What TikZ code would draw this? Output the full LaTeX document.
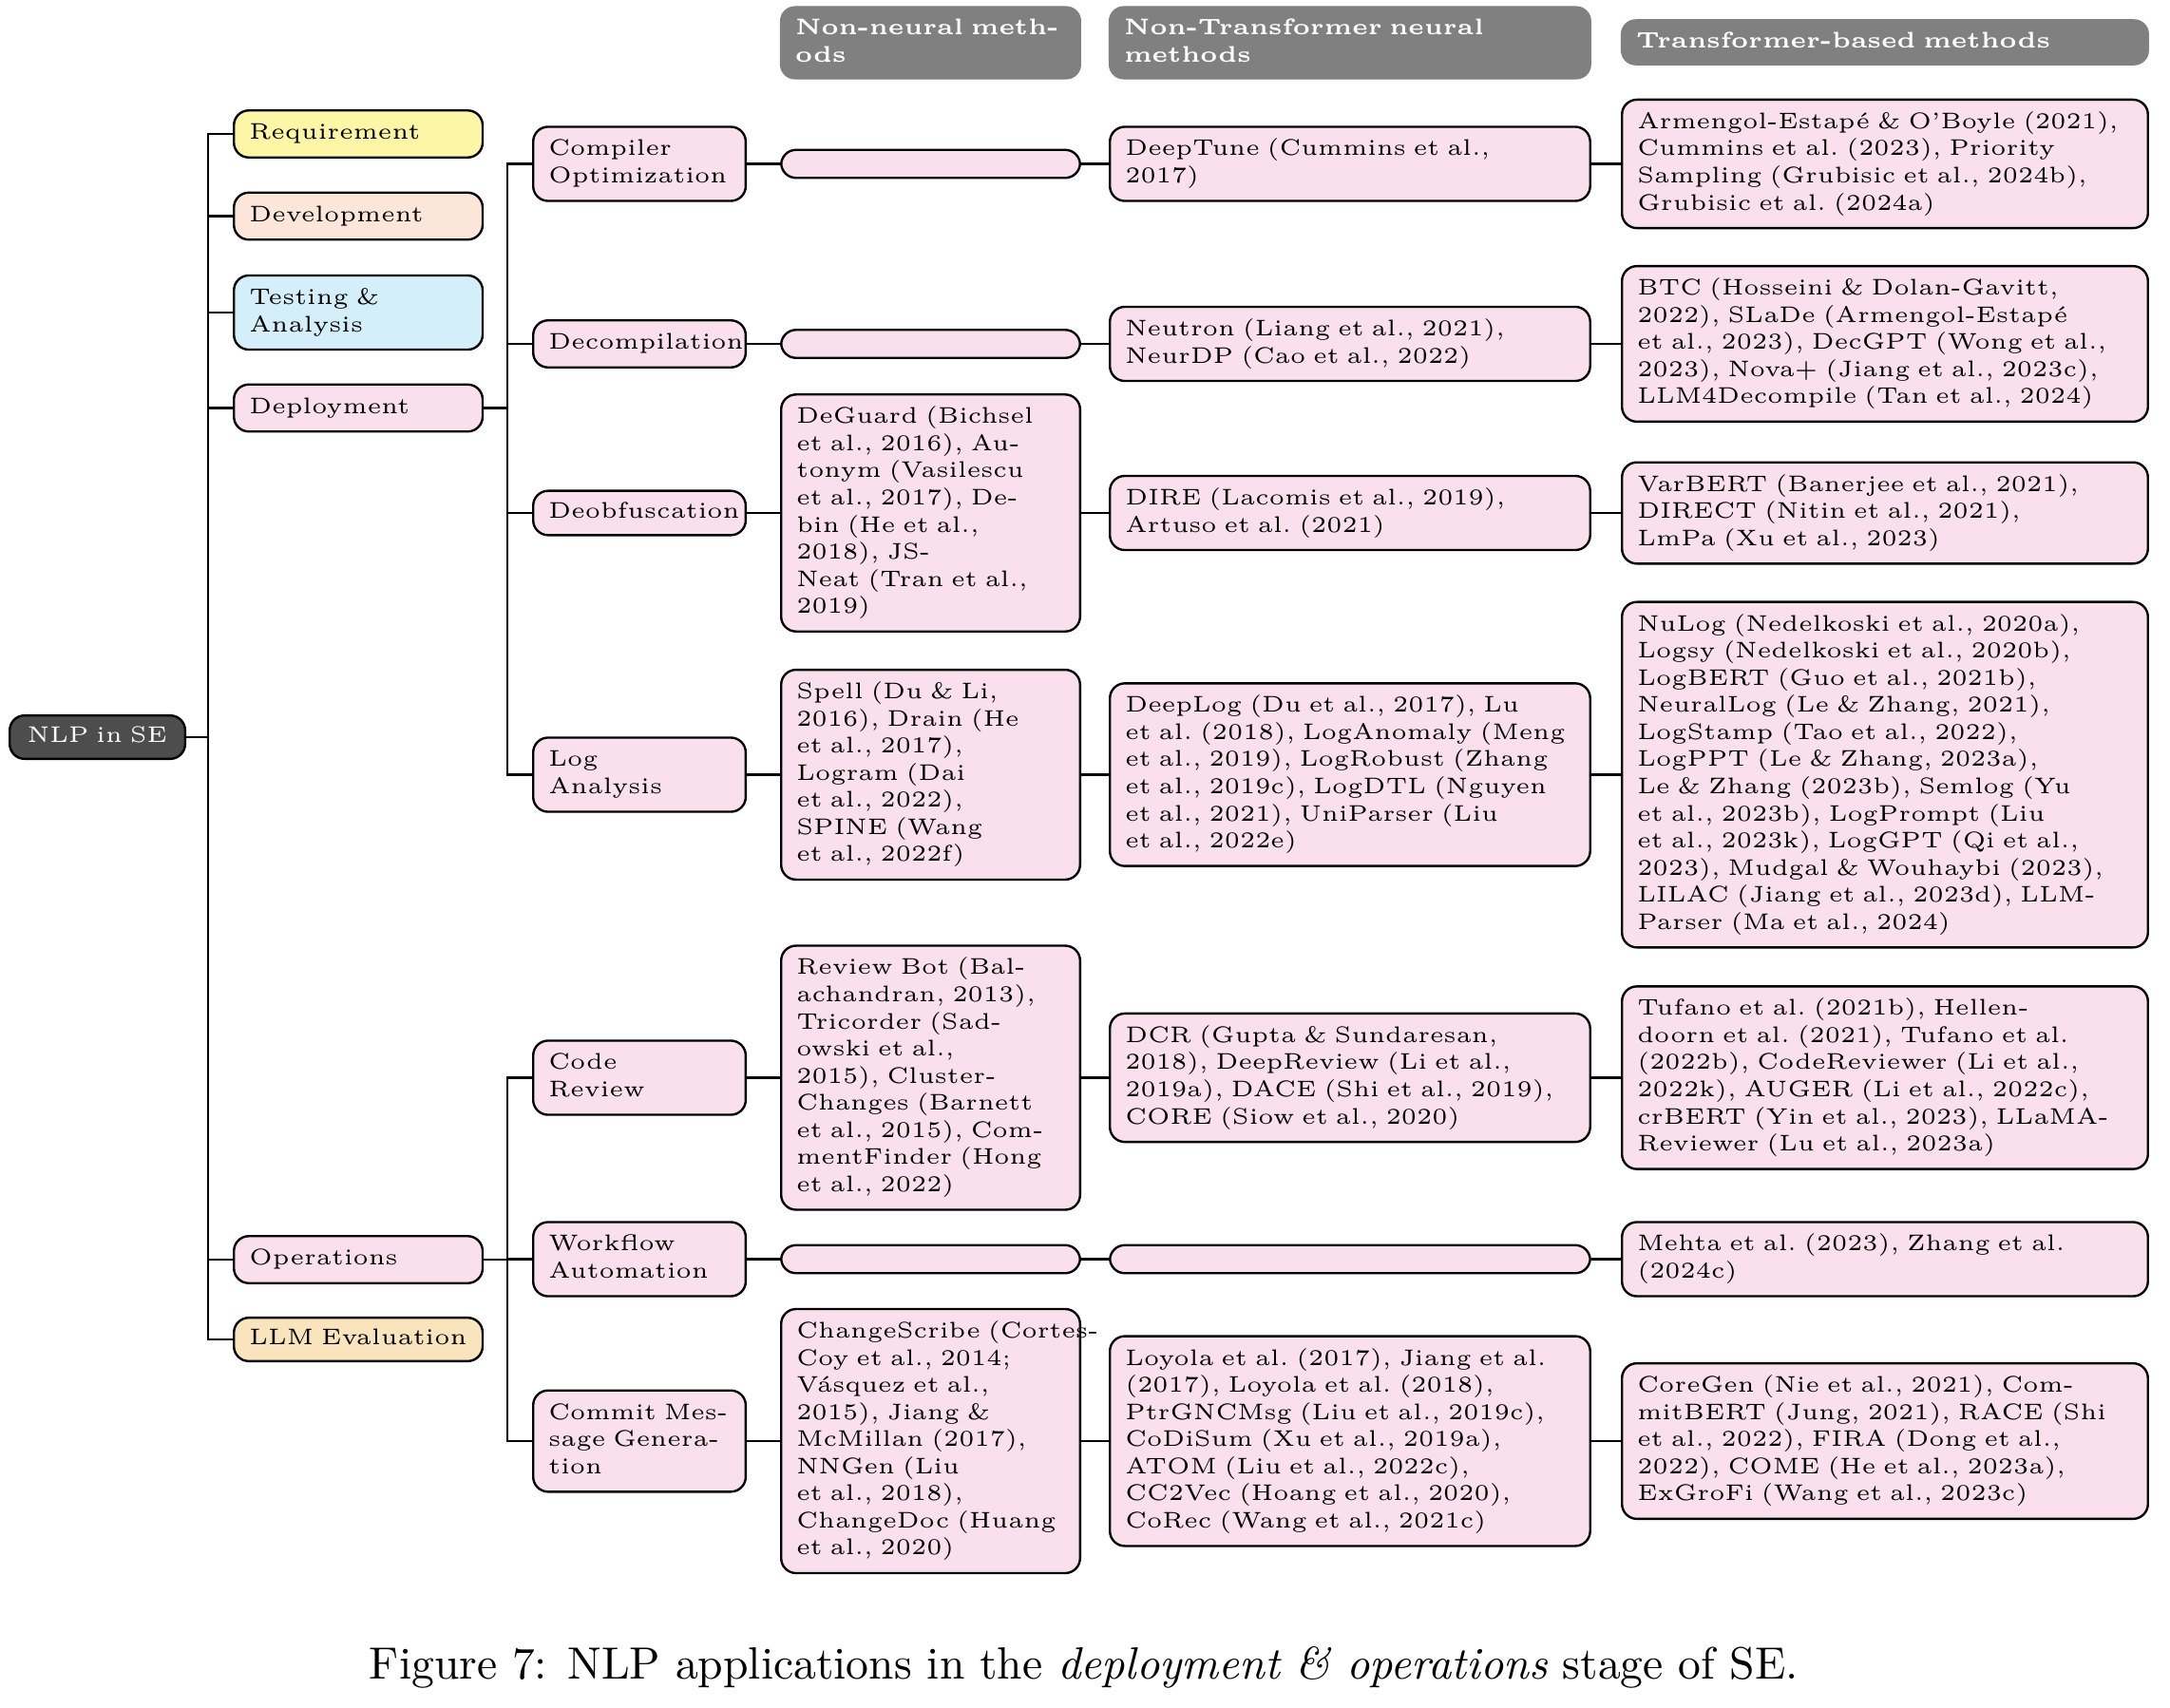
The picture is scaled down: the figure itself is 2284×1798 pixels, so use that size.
\documentclass[tikz,border=0pt]{standalone}
\usepackage{tikz}
\frenchspacing
\definecolor{reqc}{RGB}{253,246,167}
\definecolor{devc}{RGB}{252,229,217}
\definecolor{tstc}{RGB}{213,239,250}
\definecolor{pnkc}{RGB}{249,224,236}
\definecolor{llmc}{RGB}{249,228,190}
\definecolor{hdrc}{RGB}{128,128,128}
\definecolor{rootc}{RGB}{77,77,77}
\newcommand\tabl[1]{\begin{tabular}{@{}l@{}}#1\end{tabular}}
\tikzset{
  box/.style={draw=black, line width=0.5pt, rounded corners=3.3pt, font=\tiny\frenchspacing,
    align=left, inner xsep=3.4pt, inner ysep=2.2pt, anchor=west, fill=pnkc},
  cA/.style={box, text width=48.2pt},
  cB/.style={box, text width=40.2pt},
  cC/.style={box, text width=59.3pt},
  cD/.style={box, text width=99.4pt},
  cE/.style={box, text width=109.5pt},
  emptybox/.style={minimum height=6.2pt},
  hdr/.style={fill=hdrc, rounded corners=3.3pt, font=\tiny\bfseries, text=white,
    align=left, inner xsep=3.4pt, inner ysep=2.1pt, anchor=west},
  rootbox/.style={draw=black, line width=0.5pt, rounded corners=3.3pt, font=\tiny,
    fill=rootc, text=white, align=center, inner xsep=3.4pt, inner ysep=1.8pt,
    anchor=west, text width=32pt},
  conn/.style={line width=0.5pt, draw=black},
}
\begin{document}
\begin{tikzpicture}[x=0.21008pt,y=-0.21008pt]
\useasboundingbox (0,0) rectangle (2284,1798);
% headers
\node[hdr, text width=59.8pt] (h3) at (820,45) {\tabl{Non-neural meth-\\ods}};
\node[hdr, text width=99.9pt] (h4) at (1166,45) {\tabl{Non-Transformer neural\\methods}};
\node[hdr, text width=110pt] (h5) at (1705,44.5) {\tabl{Transformer-based methods}};
% root
\node[rootbox] (root) at (9,776) {\tabl{NLP in SE}};
% level 1
\node[cA, fill=reqc] (req) at (245,141) {\tabl{Requirement}};
\node[cA, fill=devc] (dev) at (245,227.5) {\tabl{Development}};
\node[cA, fill=tstc] (tst) at (245,329) {\tabl{Testing \&\\Analysis}};
\node[cA] (dep) at (245,429.5) {\tabl{Deployment}};
\node[cA] (ops) at (245,1326) {\tabl{Operations}};
\node[cA, fill=llmc, inner ysep=1.8pt] (llm) at (245,1410) {\tabl{LLM Evaluation}};
% level 2
\node[cB] (co) at (560,172.5) {\tabl{Compiler\\Optimization}};
\node[cB] (dc) at (560,362) {\tabl{Decompilation}};
\node[cB, inner ysep=1.9pt] (deo) at (560,540) {\tabl{Deobfuscation}};
\node[cB] (la) at (560,815.5) {\tabl{Log\\Analysis}};
\node[cB] (cr) at (560,1134.5) {\tabl{Code\\Review}};
\node[cB] (wa) at (560,1325.5) {\tabl{Workflow\\Automation}};
\node[cB] (cm) at (560,1517) {\tabl{Commit Mes-\\sage Genera-\\tion}};
% level 3: non-neural
\node[cC, emptybox] (co3) at (821,172.5) {};
\node[cC, emptybox] (dc3) at (821,362) {};
\node[cC] (deo3) at (821,540) {\tabl{DeGuard (Bichsel\\et al., 2016), Au-\\tonym (Vasilescu\\et al., 2017), De-\\bin (He et al.,\\2018), JS-\\Neat (Tran et al.,\\2019)}};
\node[cC] (la3) at (821,815.5) {\tabl{Spell (Du \& Li,\\2016), Drain (He\\et al., 2017),\\Logram (Dai\\et al., 2022),\\SPINE (Wang\\et al., 2022f)}};
\node[cC] (cr3) at (821,1134.5) {\tabl{Review Bot (Bal-\\achandran, 2013),\\Tricorder (Sad-\\owski et al.,\\2015), Cluster-\\Changes (Barnett\\et al., 2015), Com-\\mentFinder (Hong\\et al., 2022)}};
\node[cC, emptybox] (wa3) at (821,1325.5) {};
\node[cC] (cm3) at (821,1517) {\tabl{ChangeScribe (Cortes-\\Coy et al., 2014;\\Vásquez et al.,\\2015), Jiang \&\\McMillan (2017),\\NNGen (Liu\\et al., 2018),\\ChangeDoc (Huang\\et al., 2020)}};
% level 4: non-transformer neural
\node[cD] (co4) at (1167,172.5) {\tabl{DeepTune (Cummins et al.,\\2017)}};
\node[cD] (dc4) at (1167,362) {\tabl{Neutron (Liang et al., 2021),\\NeurDP (Cao et al., 2022)}};
\node[cD] (deo4) at (1167,540) {\tabl{DIRE (Lacomis et al., 2019),\\Artuso et al. (2021)}};
\node[cD] (la4) at (1167,815.5) {\tabl{DeepLog (Du et al., 2017), Lu\\et al. (2018), LogAnomaly (Meng\\et al., 2019), LogRobust (Zhang\\et al., 2019c), LogDTL (Nguyen\\et al., 2021), UniParser (Liu\\et al., 2022e)}};
\node[cD] (cr4) at (1167,1134.5) {\tabl{DCR (Gupta \& Sundaresan,\\2018), DeepReview (Li et al.,\\2019a), DACE (Shi et al., 2019),\\CORE (Siow et al., 2020)}};
\node[cD, emptybox] (wa4) at (1167,1325.5) {};
\node[cD] (cm4) at (1167,1517) {\tabl{Loyola et al. (2017), Jiang et al.\\(2017), Loyola et al. (2018),\\PtrGNCMsg (Liu et al., 2019c),\\CoDiSum (Xu et al., 2019a),\\ATOM (Liu et al., 2022c),\\CC2Vec (Hoang et al., 2020),\\CoRec (Wang et al., 2021c)}};
% level 5: transformer-based
\node[cE] (co5) at (1706,172.5) {\tabl{Armengol-Estapé \& O’Boyle (2021),\\Cummins et al. (2023), Priority\\Sampling (Grubisic et al., 2024b),\\Grubisic et al. (2024a)}};
\node[cE] (dc5) at (1706,362) {\tabl{BTC (Hosseini \& Dolan-Gavitt,\\2022), SLaDe (Armengol-Estapé\\et al., 2023), DecGPT (Wong et al.,\\2023), Nova+ (Jiang et al., 2023c),\\LLM4Decompile (Tan et al., 2024)}};
\node[cE] (deo5) at (1706,540) {\tabl{VarBERT (Banerjee et al., 2021),\\DIRECT (Nitin et al., 2021),\\LmPa (Xu et al., 2023)}};
\node[cE] (la5) at (1706,815.5) {\tabl{NuLog (Nedelkoski et al., 2020a),\\Logsy (Nedelkoski et al., 2020b),\\LogBERT (Guo et al., 2021b),\\NeuralLog (Le \& Zhang, 2021),\\LogStamp (Tao et al., 2022),\\LogPPT (Le \& Zhang, 2023a),\\Le \& Zhang (2023b), Semlog (Yu\\et al., 2023b), LogPrompt (Liu\\et al., 2023k), LogGPT (Qi et al.,\\2023), Mudgal \& Wouhaybi (2023),\\LILAC (Jiang et al., 2023d), LLM-\\Parser (Ma et al., 2024)}};
\node[cE] (cr5) at (1706,1134.5) {\tabl{Tufano et al. (2021b), Hellen-\\doorn et al. (2021), Tufano et al.\\(2022b), CodeReviewer (Li et al.,\\2022k), AUGER (Li et al., 2022c),\\crBERT (Yin et al., 2023), LLaMA-\\Reviewer (Lu et al., 2023a)}};
\node[cE] (wa5) at (1706,1325.5) {\tabl{Mehta et al. (2023), Zhang et al.\\(2024c)}};
\node[cE] (cm5) at (1706,1517) {\tabl{CoreGen (Nie et al., 2021), Com-\\mitBERT (Jung, 2021), RACE (Shi\\et al., 2022), FIRA (Dong et al.,\\2022), COME (He et al., 2023a),\\ExGroFi (Wang et al., 2023c)}};
% fork coordinates
\coordinate (f1) at (219,0);
\coordinate (f2) at (534,0);
% connectors: root to level 1
\foreach \c in {req,dev,tst,dep,ops,llm}
  \draw[conn] (root.east) -- (root.east -| f1) |- (\c.west);
% deployment children
\foreach \c in {co,dc,deo,la}
  \draw[conn] (dep.east) -- (dep.east -| f2) |- (\c.west);
% operations children
\foreach \c in {cr,wa,cm}
  \draw[conn] (ops.east) -- (ops.east -| f2) |- (\c.west);
% rows
\foreach \r in {co,dc,deo,la,cr,wa,cm} {
  \draw[conn] (\r.east) -- (\r3.west);
  \draw[conn] (\r3.east) -- (\r4.west);
  \draw[conn] (\r4.east) -- (\r5.west);
}
% caption
\node[font=\normalsize\nonfrenchspacing, anchor=base, inner sep=0pt] (cap) at (1141,1767) {Figure 7: NLP applications in the \textit{deployment \& operations} stage of SE.};
\end{tikzpicture}
\end{document}
